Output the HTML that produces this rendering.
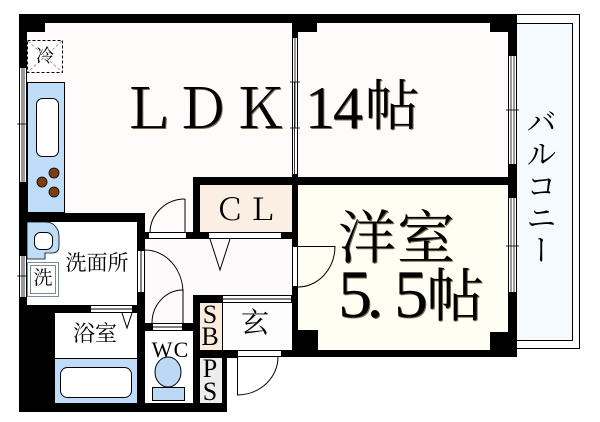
<!DOCTYPE html>
<html><head><meta charset="utf-8">
<style>
html,body{margin:0;padding:0;background:#fff;}
body{width:600px;height:422px;position:relative;overflow:hidden;}
svg{position:absolute;left:0;top:0;}
.j{font-family:"Liberation Serif","Noto Serif CJK SC","Noto Serif CJK JP","Noto Serif CJK","Source Han Serif",serif;fill:#000;}
.c{font-family:"Noto Serif CJK SC","Noto Serif CJK JP","Noto Serif CJK","Source Han Serif","Liberation Serif",serif;fill:#000;}
.big{filter:drop-shadow(1px 1px 0 #7a6a50);}
#bal{position:absolute;left:525px;top:106px;width:32px;writing-mode:vertical-rl;font-family:"Noto Serif CJK SC","Noto Serif CJK JP","Noto Serif CJK",serif;font-size:31px;line-height:32px;color:#000;letter-spacing:1px;}
</style></head><body>
<svg width="600" height="422" viewBox="0 0 600 422">
<!-- fills -->
<rect x="27" y="23" width="481" height="162" fill="#FFFBFB"/>
<rect x="27" y="185" width="166" height="47" fill="#FFFBFB"/>
<rect x="145" y="239" width="147" height="111" fill="#FCFAFA"/>
<rect x="222" y="303" width="70" height="47" fill="#FDFDFD"/>
<rect x="200" y="185" width="92" height="47" fill="#FBEFE4"/>
<rect x="298" y="185" width="210" height="165" fill="#FFFEF2"/>
<rect x="27" y="222" width="110" height="83" fill="#FFFFFF"/>
<rect x="55" y="313" width="82" height="90" fill="#FFFFFF"/>
<rect x="145" y="331" width="48" height="72" fill="#FFFFFF"/>
<rect x="200" y="303" width="22" height="47" fill="#FAEBDD"/>
<rect x="200" y="358" width="22" height="45" fill="#EEEDED"/>

<!-- balcony -->
<rect x="517" y="23" width="55.5" height="317" fill="#F5FAFF"/>
<g stroke="#000" stroke-width="1" fill="none">
<polyline points="517,14.5 579.5,14.5 579.5,348.5 517,348.5"/>
<polyline points="517,23.5 572.5,23.5 572.5,340.5 517,340.5"/>
</g>

<!-- walls -->
<g fill="#000">
<rect x="19" y="14" width="498" height="9"/>
<rect x="19" y="14" width="26" height="18"/>
<rect x="292" y="14" width="25" height="18"/>
<rect x="292" y="14" width="6" height="23"/>
<rect x="490" y="14" width="27" height="18"/>
<rect x="19" y="14" width="8" height="53"/>
<rect x="19" y="183" width="8" height="72"/>
<rect x="19" y="298" width="8" height="114"/>
<rect x="19" y="305" width="36" height="107"/>
<rect x="19" y="403" width="208" height="9"/>
<rect x="19" y="213" width="126" height="9"/>
<rect x="137" y="213" width="8" height="37"/>
<rect x="137" y="293" width="8" height="119"/>
<rect x="19" y="305" width="71" height="8"/>
<rect x="133" y="305" width="12" height="8"/>
<rect x="137" y="323" width="15" height="8"/>
<rect x="183" y="323" width="10" height="8"/>
<rect x="193" y="295" width="7" height="117"/>
<rect x="193" y="295" width="29" height="8"/>
<rect x="193" y="350" width="44" height="8"/>
<rect x="222" y="350" width="5" height="62"/>
<rect x="282" y="350" width="235" height="7"/>
<rect x="292" y="177" width="6" height="69"/>
<rect x="292" y="287" width="6" height="70"/>
<rect x="292" y="330" width="26" height="20"/>
<rect x="490" y="332" width="27" height="18"/>
<rect x="193" y="177" width="324" height="8"/>
<rect x="193" y="177" width="7" height="62"/>
<rect x="187" y="232" width="21" height="7"/>
<rect x="282" y="232" width="16" height="7"/>
<rect x="143" y="232" width="5" height="7"/>
<rect x="508" y="14" width="9" height="41"/>
<rect x="508" y="165" width="9" height="32"/>
<rect x="508" y="293" width="9" height="64"/>
<rect x="292" y="175" width="6" height="10"/>
</g>

<!-- door strips -->
<g fill="#fff" stroke="#000" stroke-width="1">
<rect x="148.5" y="232.5" width="38" height="6"/>
<rect x="208.5" y="232.5" width="73" height="6"/>
<rect x="137.5" y="250.5" width="7" height="42"/>
<rect x="90.5" y="305.5" width="42" height="7"/>
<rect x="152.5" y="323.5" width="30" height="7"/>
<rect x="222.5" y="295.5" width="69" height="7"/>
<rect x="237.5" y="350.5" width="44" height="6"/>
<rect x="292.5" y="246.5" width="5" height="40"/>
</g>
<g stroke="#000" stroke-width="1">
<line x1="222" y1="299" x2="292" y2="299"/>
<line x1="141" y1="250" x2="141" y2="293"/>
<line x1="90" y1="309" x2="133" y2="309"/>
<line x1="152" y1="327" x2="183" y2="327"/>
</g>

<!-- windows -->
<g fill="#fff" stroke="#000" stroke-width="1">
<rect x="19.5" y="67.5" width="7" height="115"/>
<rect x="19.5" y="255.5" width="7" height="42"/>
<rect x="292.5" y="37.5" width="5" height="137"/>
<rect x="508.5" y="55.5" width="8" height="109"/>
<rect x="508.5" y="197.5" width="8" height="95"/>
</g>
<g stroke="#000" stroke-width="0.8">
<line x1="22" y1="67" x2="22" y2="183"/><line x1="24" y1="67" x2="24" y2="183"/>
<line x1="17" y1="124" x2="29" y2="124"/>
<line x1="22" y1="255" x2="22" y2="298"/><line x1="24" y1="255" x2="24" y2="298"/>
<line x1="17" y1="276" x2="29" y2="276"/>
<line x1="295" y1="37" x2="295" y2="128"/>
<line x1="294.5" y1="82" x2="294.5" y2="175"/>
<line x1="290" y1="82" x2="300" y2="82"/><line x1="290" y1="128" x2="300" y2="128"/>
<line x1="511" y1="55" x2="511" y2="165"/><line x1="514" y1="55" x2="514" y2="165"/>
<line x1="506" y1="110" x2="519" y2="110"/>
<line x1="511" y1="197" x2="511" y2="293"/><line x1="514" y1="197" x2="514" y2="293"/>
<line x1="506" y1="246" x2="519" y2="246"/>
</g>

<!-- doors -->
<g fill="none" stroke="#000" stroke-width="1">
<path d="M150,233 A35,34 0 0 1 185,199"/>
<line x1="185" y1="199" x2="185" y2="233"/>
<path d="M145,250 A38,43 0 0 1 183,293"/>
<path d="M183,290 A31,33 0 0 0 152,323"/>
<line x1="183" y1="290" x2="183" y2="323"/>
<path d="M335,246 A37,41 0 0 1 298,287"/>
<line x1="298" y1="246.5" x2="335" y2="246.5"/>
<path d="M237,395 A41,38 0 0 0 278,357"/>
<line x1="237.5" y1="357" x2="237.5" y2="395"/>
<polyline points="210,239 220,270 230,239"/>
<polyline points="122,313 127,328 132,313"/>
</g>

<!-- kitchen -->
<rect x="27.5" y="82.5" width="37" height="130" fill="#BFDDF9" stroke="#000" stroke-width="1"/>
<rect x="36.5" y="98.5" width="22" height="58" rx="6" fill="#fff" stroke="#000" stroke-width="1"/>
<g fill="#7B3F12" stroke="#000" stroke-width="0.8">
<circle cx="54" cy="173" r="5"/><circle cx="42" cy="182" r="5"/><circle cx="54" cy="192" r="5"/>
</g>
<!-- fridge -->
<rect x="27.5" y="40.5" width="35" height="32" fill="#fff" stroke="#000" stroke-width="1" stroke-dasharray="3,2"/>
<g stroke="#888" stroke-width="0.8" stroke-dasharray="3,2">
<line x1="28" y1="41" x2="62" y2="72"/><line x1="62" y1="41" x2="28" y2="72"/>
</g>
<text x="45" y="62" class="c" font-size="18" text-anchor="middle">冷</text>

<!-- washroom sink -->
<path d="M27,222 L45,222 Q52,222 55,226 Q59,230 59,236 L59,246 Q59,253 52,253 L45,253 L45,259 L27,259 Z" fill="#BFDDF9" stroke="#000" stroke-width="0.8"/>
<rect x="34.5" y="232.5" width="18" height="17" rx="6" fill="#fff" stroke="#000" stroke-width="1"/>
<!-- washer -->
<rect x="27.5" y="262.5" width="31" height="34" fill="#fff" stroke="#7a8a9a" stroke-width="1"/>
<rect x="30.5" y="265.5" width="25" height="28" fill="#fff" stroke="#7a8a9a" stroke-width="1"/>
<text x="43" y="284" class="c" font-size="19" text-anchor="middle">洗</text>

<!-- bath -->
<rect x="55" y="358" width="82" height="45" fill="#BFDDF9"/>
<line x1="55" y1="358.5" x2="137" y2="358.5" stroke="#000" stroke-width="1"/>
<rect x="60.5" y="367.5" width="71" height="30" rx="7" fill="#fff" stroke="#000" stroke-width="1"/>

<!-- toilet -->
<ellipse cx="168" cy="372" rx="13" ry="15" fill="#BCD8F4" stroke="#000" stroke-width="1"/>
<rect x="152.5" y="387.5" width="32" height="13" fill="#BCD8F4" stroke="#000" stroke-width="1"/>

<!-- SB/Genkan divider -->
<line x1="222.5" y1="303" x2="222.5" y2="350" stroke="#000" stroke-width="1"/>

<!-- labels -->
<g class="big">
<text x="147" y="128" class="c" font-size="55" text-anchor="middle">Ｌ</text>
<text x="202" y="128" class="c" font-size="55" text-anchor="middle">Ｄ</text>
<text x="260" y="128" class="c" font-size="55" text-anchor="middle">Ｋ</text>
<text x="320" y="128" class="j" font-size="60" text-anchor="middle">1</text>
<text x="348" y="128" class="j" font-size="60" text-anchor="middle">4</text>
<text x="392" y="125" class="c" font-size="55" text-anchor="middle">帖</text>
<text x="367" y="258" class="c" font-size="58" text-anchor="middle">洋</text>
<text x="426" y="258" class="c" font-size="58" text-anchor="middle">室</text>
<text x="355" y="317" class="j" font-size="68" text-anchor="middle">5</text>
<text x="375" y="317" class="j" font-size="68" text-anchor="middle">.</text>
<text x="411" y="317" class="j" font-size="68" text-anchor="middle">5</text>
<text x="455" y="316" class="c" font-size="58" text-anchor="middle">帖</text>
</g>
<text x="230" y="220" class="c" font-size="30" text-anchor="middle">Ｃ</text>
<text x="262" y="220" class="c" font-size="30" text-anchor="middle">Ｌ</text>
<text x="210" y="323" class="j" font-size="26" text-anchor="middle">S</text>
<text x="210" y="345" class="j" font-size="26" text-anchor="middle">B</text>
<text x="210" y="377" class="j" font-size="26" text-anchor="middle">P</text>
<text x="210" y="400" class="j" font-size="26" text-anchor="middle">S</text>
<text x="255" y="332" class="c" font-size="28" text-anchor="middle">玄</text>
<text x="162" y="357" class="j" font-size="22" text-anchor="middle">W</text>
<text x="181" y="357" class="j" font-size="22" text-anchor="middle">C</text>
<text x="95" y="341" class="c" font-size="22" text-anchor="middle">浴室</text>
<text x="97" y="270" class="c" font-size="21" text-anchor="middle">洗面所</text>
</svg>
<div id="bal">バルコニー</div>
</body></html>
